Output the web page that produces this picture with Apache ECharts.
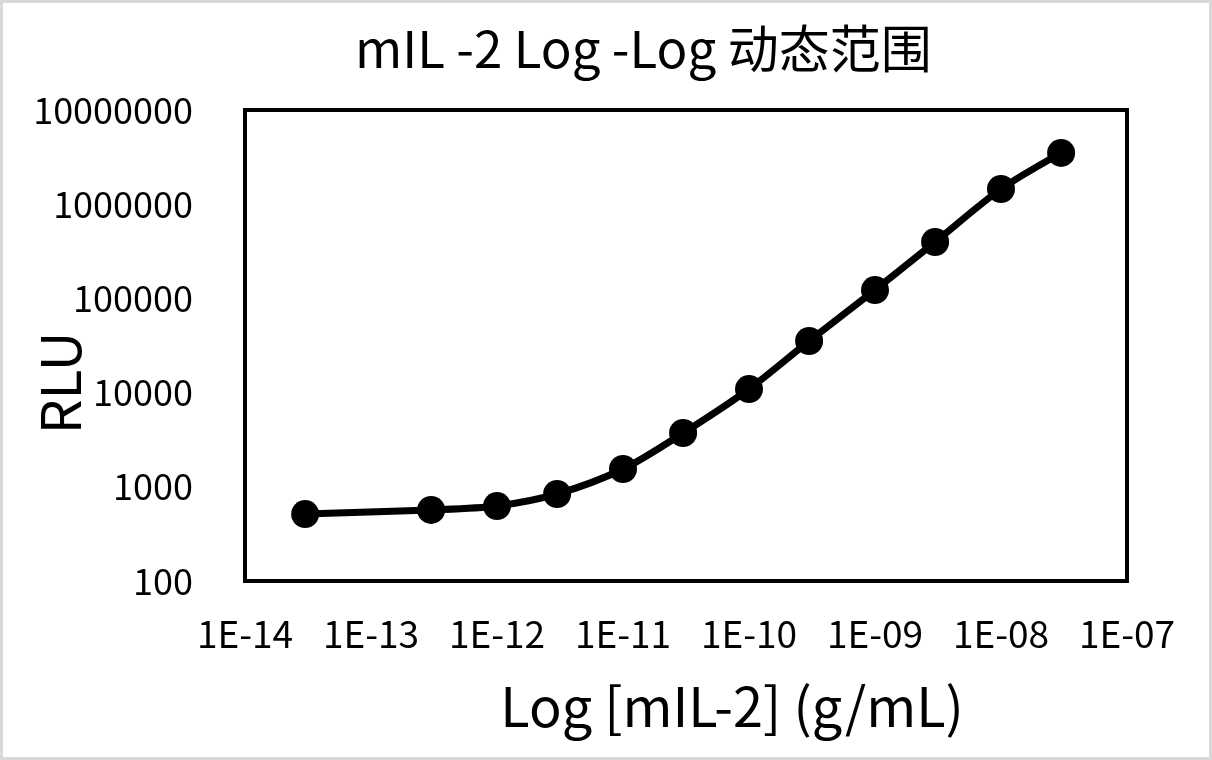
<!DOCTYPE html>
<html lang="zh">
<head>
    <meta charset="UTF-8">
    <style>
        body{ margin: 0; }
        #main{ width: 1212px; height: 760px; position: absolute; left: 0; top: 0; }
        #frame{
            position: absolute; left: 0; top: 0;
            width: 1212px; height: 760px; box-sizing: border-box;
            border: 3px solid #d9d9d9; pointer-events: none;
        }
    </style>
    <script src="https://cdn.jsdelivr.net/npm/echarts@6/dist/echarts.min.js"></script>
    <title>mIL-2 Log-Log动态范围</title>
</head>
<body>
    <div id="main"></div>
    <div id="frame"></div>
    <script>
        // concentration (g/mL) and signal (RLU)
        var conc = [3e-14, 3e-13, 1e-12, 3e-12, 1e-11, 3e-11, 1e-10, 3e-10, 1e-9, 3e-9, 1e-8, 3e-8];
        var rlu = [514, 568, 625, 839, 1545, 3725, 10900, 35300, 122700, 397000, 1450000, 3500000];

        var font = '"Noto Sans CJK SC", "Noto Sans", sans-serif';
        var data = conc.map(function (c, i) { return [c, rlu[i]]; });

        var myChart = echarts.init(document.getElementById('main'));
        var option = {
            animation: false,
            title: {
                text: 'mIL -2 Log -Log 动态范围',
                left: 350,
                top: 18,
                textStyle: { fontFamily: font, fontSize: 51, fontWeight: 'normal', color: '#000' }
            },
            // y axis title, placed by hand (rotated)
            graphic: [{
                type: 'text',
                x: 60,
                y: 383,
                rotation: Math.PI / 2,
                style: {
                    text: 'RLU',
                    font: '55px ' + font,
                    fill: '#000',
                    align: 'center',
                    verticalAlign: 'middle'
                }
            }],
            grid: {
                left: 245, right: 85, top: 110, bottom: 179,
                outerBoundsMode: 'none',
                containLabel: false,
                show: true, borderColor: '#000', borderWidth: 4
            },
            xAxis: {
                type: 'log',
                logBase: 10,
                min: 1e-14,
                max: 1e-7,
                name: 'Log [mIL-2] (g/mL)',
                nameLocation: 'middle',
                nameGap: 98,
                nameTextStyle: { fontFamily: font, fontSize: 54, color: '#000', padding: [0, 0, 0, 92] },
                axisLine: { show: false },
                axisTick: { show: false },
                splitLine: { show: false },
                axisLabel: {
                    fontFamily: font, fontSize: 37, color: '#000', margin: 34,
                    formatter: function (v) {
                        var e = Math.round(Math.log10(v));
                        var a = Math.abs(e);
                        return '1E' + (e < 0 ? '-' : '+') + (a < 10 ? '0' + a : a);
                    }
                }
            },
            yAxis: {
                type: 'log',
                logBase: 10,
                min: 100,
                max: 10000000,
                axisLine: { show: false },
                axisTick: { show: false },
                splitLine: { show: false },
                axisLabel: {
                    fontFamily: font, fontSize: 36, color: '#000', margin: 52,
                    formatter: function (v) { return String(Math.round(v)); }
                }
            },
            series: [{
                type: 'line',
                data: data,
                smooth: 0.3,
                symbol: 'circle',
                symbolSize: 28,
                itemStyle: { color: '#000' },
                lineStyle: { color: '#000', width: 7 }
            }]
        };
        myChart.setOption(option);
    </script>
</body>
</html>
